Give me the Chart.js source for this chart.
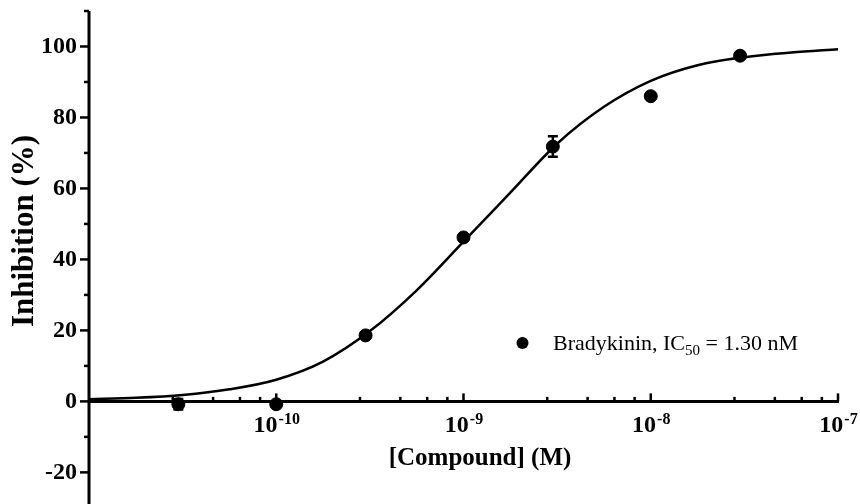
<!DOCTYPE html>
<html>
<head>
<meta charset="utf-8">
<script src="https://cdn.jsdelivr.net/npm/chart.js@4.4.1/dist/chart.umd.min.js"></script>
<style>
  html, body { margin: 0; padding: 0; background: #fff; }
  #wrap { width: 860px; height: 504px; position: relative; }
</style>
</head>
<body>
<div id="wrap"><canvas id="grafico"></canvas></div>
<script>
// ======= Dados =======
const concentracoes = [3e-11, 1e-10, 3e-10, 1e-9, 3e-9, 1e-8, 3e-8];
const inibicao = [-0.8, -0.8, 18.6, 46.2, 71.8, 86.0, 97.4];
const erroPadrao = [1.5, 0, 0, 0, 2.9, 0, 0];

const curvaX = [1e-11, 1.778e-11, 3.162e-11, 5.623e-11, 1e-10, 1.778e-10, 3.162e-10, 5.623e-10,
  1e-9, 1.778e-9, 3.162e-9, 5.623e-9, 1e-8, 1.778e-8, 3.162e-8, 5.623e-8, 1e-7];
const curvaY = [0.6, 1.0, 1.8, 3.4, 6.1, 11.2, 19.8, 31.3,
  45.0, 58.8, 72.6, 83.0, 90.3, 94.7, 97.0, 98.3, 99.2];

const yTicks = [-20, 0, 20, 40, 60, 80, 100];
const yMinor = [-10, 10, 30, 50, 70, 90, 110];
const xDecadas = [1e-10, 1e-9, 1e-8, 1e-7];
const xExpoentes = ["-10", "-9", "-8", "-7"];
const xMinorMult = [2.8, 4.6, 6.4, 8.2];

const legendaTexto = ["Bradykinin, IC", "50", " = 1.30 nM"];
const tituloX = "[Compound] (M)";
const tituloY = "Inhibition (%)";

const SERIF = '"Liberation Serif", "Times New Roman", serif';

// ======= Plugin: eixos, barras de erro, títulos, legenda =======
const eixosPlugin = {
  id: "eixos",
  beforeDatasetsDraw(chart) {
    const { ctx, chartArea, scales: { x, y } } = chart;
    const y0 = y.getPixelForValue(0);
    ctx.save();
    ctx.strokeStyle = "#000";
    ctx.lineCap = "butt";

    // eixo Y (continua até a borda de baixo)
    ctx.lineWidth = 3;
    ctx.beginPath();
    ctx.moveTo(chartArea.left, chartArea.top);
    ctx.lineTo(chartArea.left, chart.height);
    ctx.stroke();
    ctx.lineWidth = 2.5;
    yTicks.forEach(v => {
      const py = y.getPixelForValue(v);
      ctx.beginPath(); ctx.moveTo(chartArea.left - 9, py); ctx.lineTo(chartArea.left, py); ctx.stroke();
    });
    yMinor.forEach(v => {
      const py = y.getPixelForValue(v);
      ctx.beginPath(); ctx.moveTo(chartArea.left - 5, py); ctx.lineTo(chartArea.left, py); ctx.stroke();
    });

    // eixo X em y = 0
    ctx.lineWidth = 3;
    ctx.beginPath();
    ctx.moveTo(chartArea.left, y0);
    ctx.lineTo(x.getPixelForValue(1e-7) + 1, y0);
    ctx.stroke();
    ctx.lineWidth = 2.5;
    xDecadas.forEach(d => {
      const px = x.getPixelForValue(d);
      ctx.beginPath(); ctx.moveTo(px, y0 - 8); ctx.lineTo(px, y0); ctx.stroke();
    });
    [1e-11, 1e-10, 1e-9, 1e-8].forEach(d => {
      xMinorMult.forEach(m => {
        const px = x.getPixelForValue(d * m);
        ctx.beginPath(); ctx.moveTo(px, y0 - 4.5); ctx.lineTo(px, y0); ctx.stroke();
      });
    });

    // rótulos do eixo X: 10 com expoente
    ctx.fillStyle = "#000";
    ctx.textBaseline = "alphabetic";
    ctx.textAlign = "left";
    xDecadas.forEach((d, i) => {
      const px = x.getPixelForValue(d);
      ctx.font = "bold 24px " + SERIF;
      const wBase = ctx.measureText("10").width;
      ctx.font = "bold 16px " + SERIF;
      const wExp = ctx.measureText(xExpoentes[i]).width;
      const inicio = px - (wBase + wExp) / 2;
      ctx.font = "bold 24px " + SERIF;
      ctx.fillText("10", inicio, y0 + 31);
      ctx.font = "bold 16px " + SERIF;
      ctx.fillText(xExpoentes[i], inicio + wBase + 1, y0 + 23);
    });

    // títulos
    ctx.font = "bold 25px " + SERIF;
    ctx.textAlign = "center";
    ctx.fillText(tituloX, 480, y0 + 64);
    ctx.save();
    ctx.translate(33, 231);
    ctx.rotate(-Math.PI / 2);
    ctx.font = "bold 31px " + SERIF;
    ctx.textBaseline = "alphabetic";
    ctx.fillText(tituloY, 0, 0);
    ctx.restore();

    // barras de erro
    ctx.lineWidth = 2.5;
    concentracoes.forEach((c, i) => {
      if (!erroPadrao[i]) return;
      const px = x.getPixelForValue(c);
      const pTop = y.getPixelForValue(inibicao[i] + erroPadrao[i]);
      const pBot = y.getPixelForValue(inibicao[i] - erroPadrao[i]);
      ctx.beginPath();
      ctx.moveTo(px, pTop); ctx.lineTo(px, pBot);
      ctx.moveTo(px - 5, pTop); ctx.lineTo(px + 5, pTop);
      ctx.moveTo(px - 5, pBot); ctx.lineTo(px + 5, pBot);
      ctx.stroke();
    });

    // legenda
    ctx.beginPath();
    ctx.arc(522.5, 343, 6, 0, Math.PI * 2);
    ctx.fill();
    ctx.textAlign = "left";
    ctx.textBaseline = "alphabetic";
    let lx = 553;
    ctx.font = "22px " + SERIF;
    ctx.fillText(legendaTexto[0], lx, 350);
    lx += ctx.measureText(legendaTexto[0]).width;
    ctx.font = "15px " + SERIF;
    ctx.fillText(legendaTexto[1], lx, 355);
    lx += ctx.measureText(legendaTexto[1]).width;
    ctx.font = "22px " + SERIF;
    ctx.fillText(legendaTexto[2], lx, 350);
    ctx.restore();
  }
};

// ======= Gráfico =======
const ctxGrafico = document.getElementById("grafico").getContext("2d");
new Chart(ctxGrafico, {
  type: "scatter",
  data: {
    datasets: [
      {
        label: "Curva",
        type: "line",
        data: curvaX.map((v, i) => ({ x: v, y: curvaY[i] })),
        borderColor: "#000",
        borderWidth: 2.5,
        pointRadius: 0,
        fill: false,
        cubicInterpolationMode: "monotone",
        clip: false
      },
      {
        label: "Bradykinin",
        data: concentracoes.map((v, i) => ({ x: v, y: inibicao[i] })),
        backgroundColor: "#000",
        borderColor: "#000",
        pointRadius: 6.5,
        pointHoverRadius: 6.5,
        clip: false
      }
    ]
  },
  options: {
    responsive: true,
    maintainAspectRatio: false,
    animation: false,
    events: [],
    layout: { padding: { left: 0, right: 22, top: 11, bottom: 0 } },
    plugins: { legend: { display: false }, tooltip: { enabled: false } },
    scales: {
      x: {
        type: "logarithmic",
        min: 1e-11,
        max: 1e-7,
        display: false
      },
      y: {
        type: "linear",
        min: -26.8,
        max: 110,
        afterBuildTicks: s => { s.ticks = yTicks.map(v => ({ value: v })); },
        afterFit: s => { s.width = 89; s.paddingTop = 0; s.paddingBottom = 0; },
        grid: { display: false, drawTicks: false, tickLength: 0 },
        border: { display: false },
        ticks: {
          color: "#000",
          padding: 12,
          font: { family: SERIF, size: 24, weight: "bold" },
          callback: v => String(v)
        }
      }
    }
  },
  plugins: [eixosPlugin]
});
</script>
</body>
</html>
